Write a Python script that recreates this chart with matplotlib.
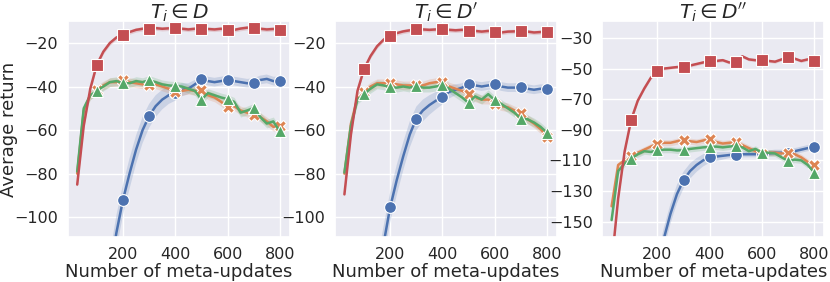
import numpy as np
import matplotlib
matplotlib.use("Agg")
import matplotlib.pyplot as plt
import seaborn as sns

sns.set_theme(style="darkgrid")

# meta-update steps (markers every 100)
steps = np.arange(25, 801, 25)

titles = [r"$T_i \in D$", r"$T_i \in D'$", r"$T_i \in D''$"]

# panel 1 : T_i in D
d1_red = [-85, -58, -41, -30, -24, -20, -17.5, -16.3, -15, -14, -13.5, -13.5, -13.2, -13.5, -13.3, -13.2,
          -13.5, -13.8, -13.5, -13.4, -13.6, -13.8, -13.5, -14, -14, -13.4, -13, -13, -13.5, -13.8, -13.6, -14]
d1_green = [-79, -50, -44, -42, -40, -38, -37.5, -38.5, -38.5, -37.5, -38, -37, -38, -39, -39.5, -39.7,
            -40, -41, -42, -46, -43, -44, -45, -45.8, -47, -52, -51, -49.8, -54, -57, -56, -60.6]
d1_orange = [-80, -51, -44, -41.5, -39.5, -38, -38, -37, -38, -38.5, -39, -39.5, -39, -40, -41, -42.5,
             -42, -41.5, -42, -41.5, -44, -45, -47, -49.4, -49, -51, -52, -52.9, -54, -56, -58.5, -58]
d1_blue = [-200, -185, -170, -155, -140, -125, -107, -92, -80, -69, -60, -53.5, -49, -46, -44, -43,
           -41.5, -41, -39, -36.5, -37.5, -38, -37.5, -37, -37.5, -38, -38.5, -38.2, -37, -36.5, -37.5, -37.5]

# panel 2 : T_i in D'
d2_red = [-89.5, -62, -42, -32, -26, -21.5, -18.5, -16.6, -15.5, -14.7, -14.2, -13.8, -13.8, -14, -13.8, -13.8,
          -14, -14.2, -14, -14.3, -14.5, -14.8, -14.5, -15, -15.2, -14.8, -14.7, -14.6, -14.8, -15.2, -15, -15]
d2_green = [-79.5, -58, -46, -43.5, -41, -39, -39.5, -40.4, -40.5, -40, -40.5, -39.8, -40.5, -40.5, -40, -39.3,
            -41, -43, -45, -47.5, -44.5, -46, -43.5, -46.3, -48, -50, -52, -54.7, -55, -56.5, -58.5, -61.2]
d2_orange = [-80, -57, -45, -42.5, -40, -38.5, -38.5, -38.5, -39, -39.5, -39.5, -39.5, -39.5, -38.5, -38, -37.8,
             -40, -41, -42, -43.5, -45, -46, -46, -47.8, -49, -49.5, -51, -52, -55, -57, -59.5, -63]
d2_blue = [-210, -195, -180, -165, -145, -128, -112, -95.4, -83, -72, -62, -54.7, -51, -48.5, -46.5, -44.7,
           -42.5, -41.5, -40.5, -38.8, -39.5, -40, -39.5, -39, -40, -40.5, -40.5, -40.4, -41, -41.5, -41, -41.2]

# panel 3 : T_i in D''
d3_red = [-178, -135, -104, -83.4, -71, -63, -56, -51.5, -50, -49.5, -49, -48.7, -48, -47, -46, -45.2,
          -45, -44.5, -46, -45.4, -42, -44, -44.5, -44.3, -45, -45.5, -44, -42.6, -43.5, -45, -44, -45]
d3_green = [-149, -117, -112, -108.8, -106, -104, -104.5, -103.4, -103, -103, -103.5, -103.4, -102.5, -102, -101.5, -101.2,
            -101, -101.5, -101, -100.5, -101.5, -104, -102.5, -104.9, -105, -105.5, -108, -110.3, -109.5, -110, -113, -118]
d3_orange = [-140, -113, -110, -107.3, -105, -103, -101, -99, -98.5, -98.5, -97.5, -96.4, -97.5, -98, -97, -95.8,
             -98, -99, -98.5, -98, -100, -102, -104, -106, -105, -105, -105.5, -105, -106, -108, -111, -113]
d3_blue = [-300, -280, -260, -240, -225, -210, -195, -180, -161, -145, -132, -122.9, -117, -113, -110, -108,
           -107.5, -107, -106.5, -106.2, -106, -106, -106, -106, -105.5, -105, -105, -105, -104, -103, -102, -101.2]

# shaded band half widths
blue_band = [8, 8, 8, 8, 8, 8, 8, 7, 7, 6.5, 6, 5.5, 5, 4.5, 4, 3.5,
             3, 2.5, 2, 2, 2, 2, 2, 2, 2, 2, 2, 2, 2, 2, 2, 2]
band_other = {"red": 1.0, "orange": 2.0, "green": 2.0}

panels = [
    (d1_blue, d1_orange, d1_green, d1_red),
    (d2_blue, d2_orange, d2_green, d2_red),
    (d3_blue, d3_orange, d3_green, d3_red),
]
ylims = [(-109, -10), (-109, -10), (-160, -19)]
yticks = [[-100, -80, -60, -40, -20], [-100, -80, -60, -40, -20], [-150, -130, -110, -90, -70, -50, -30]]

pal = sns.color_palette("deep")
colors = {"blue": pal[0], "orange": pal[1], "green": pal[2], "red": pal[3]}
markers = {"blue": "o", "orange": "X", "green": "^", "red": "s"}
mark_idx = list(range(3, len(steps), 4))

fig, axes = plt.subplots(1, 3, figsize=(8.3, 2.82), dpi=100)
fig.subplots_adjust(left=0.082, right=0.993, top=0.925, bottom=0.16, wspace=0.205)

for ax, series, title, yl, yt in zip(axes, panels, titles, ylims, yticks):
    for name, vals in zip(["blue", "orange", "green", "red"], series):
        vals = np.array(vals)
        hw = np.array(blue_band) if name == "blue" else band_other[name]
        ax.fill_between(steps, vals - hw, vals + hw, color=colors[name], alpha=0.2, lw=0)
        ax.plot(steps, vals, color=colors[name], lw=1.8, marker=markers[name],
                markevery=mark_idx, markersize=8.5 if name != "orange" else 9,
                markeredgecolor="white", markeredgewidth=0.8)
    ax.set_xlim(-10, 838)
    ax.set_ylim(*yl)
    ax.set_xticks([200, 400, 600, 800])
    ax.set_yticks(yt)
    ax.tick_params(labelsize=11.5, pad=1)
    ax.set_title(title, fontsize=14.5, pad=2)
    ax.set_xlabel("Number of meta-updates", fontsize=13, labelpad=1)

axes[0].set_ylabel("Average return", fontsize=13)
axes[0].yaxis.set_label_coords(-0.225, 0.5)

fig.savefig("out.png", dpi=100)
